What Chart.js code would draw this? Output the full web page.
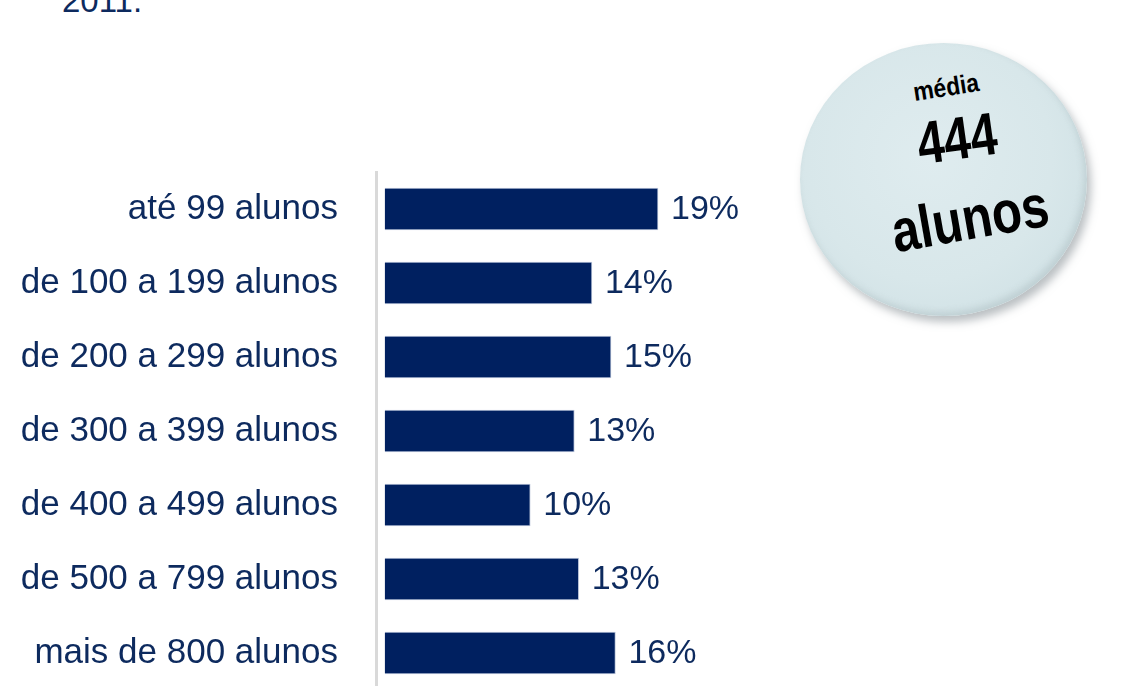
<!DOCTYPE html>
<html lang="pt">
<head>
  <meta charset="UTF-8" />
  <title>Número de alunos</title>
  <script src="https://cdn.jsdelivr.net/npm/chart.js"></script>
  <style>
    html, body {
      margin: 0;
      padding: 0;
      width: 1128px;
      height: 686px;
      overflow: hidden;
      background: #fff;
      font-family: 'Liberation Sans', Arial, sans-serif;
    }

    .year {
      position: absolute;
      left: 62px;
      top: -16px;
      font-size: 33px;
      color: #0d2a5e;
      line-height: 1;
    }

    .chart-box {
      position: absolute;
      left: 0;
      top: 0;
      width: 760px;
      height: 700px;
    }

    .badge {
      position: absolute;
      left: 800px;
      top: 43px;
      width: 287px;
      height: 273px;
      border-radius: 50%;
      background: radial-gradient(circle at 45% 42%, #dfecef 0%, #d8e7ea 55%, #d0e1e5 82%, #e8f0f2 100%);
      box-shadow: 4px 6px 8px rgba(120, 130, 135, 0.5), inset -3px -4px 6px rgba(150, 165, 170, 0.3);
    }

    .bt {
      position: absolute;
      font-weight: bold;
      color: #000;
      white-space: nowrap;
      line-height: 1;
    }
    .bt.t1 { left: 946px; top: 87px; font-size: 26px; transform: translate(-50%, -50%) rotate(-9deg) scaleX(0.88); }
    .bt.t2 { left: 957px; top: 139px; font-size: 60px; transform: translate(-50%, -50%) rotate(-8deg) scaleX(0.8); }
    .bt.t3 { left: 970px; top: 219px; font-size: 60px; transform: translate(-50%, -50%) rotate(-10deg) scaleX(0.82); }
  </style>
</head>
<body>
  <div class="year">2011.</div>

  <div class="chart-box">
    <canvas id="chart"></canvas>
  </div>

  <div class="badge"></div>
  <div class="bt t1">média</div>
  <div class="bt t2">444</div>
  <div class="bt t3">alunos</div>

  <script>
    const categories = [
      "até 99 alunos",
      "de 100 a 199 alunos",
      "de 200 a 299 alunos",
      "de 300 a 399 alunos",
      "de 400 a 499 alunos",
      "de 500 a 799 alunos",
      "mais de 800 alunos"
    ];
    const shares = [18.6, 14.1, 15.4, 12.9, 9.9, 13.2, 15.7];
    const shareLabels = ["19%", "14%", "15%", "13%", "10%", "13%", "16%"];

    const navy = "#002060";
    const textNavy = "#0d2a5e";

    // percentages written just right of each bar
    const valueLabels = {
      id: "valueLabels",
      afterDatasetsDraw(chart) {
        const ctx = chart.ctx;
        const meta = chart.getDatasetMeta(0);
        ctx.save();
        ctx.font = "34px 'Liberation Sans', Arial, sans-serif";
        ctx.fillStyle = textNavy;
        ctx.textAlign = "left";
        ctx.textBaseline = "middle";
        meta.data.forEach((bar, i) => {
          ctx.fillText(shareLabels[i], bar.x + 13, bar.y + 1);
        });
        ctx.restore();
      }
    };

    new Chart(document.getElementById("chart"), {
      type: "bar",
      data: {
        labels: categories,
        datasets: [{
          data: shares,
          backgroundColor: navy,
          borderColor: "#b8c3d8",
          borderWidth: 1,
          barThickness: 42
        }]
      },
      options: {
        indexAxis: "y",
        responsive: true,
        maintainAspectRatio: false,
        animation: false,
        layout: { padding: { top: 172, bottom: 10, left: 0, right: 8 } },
        plugins: {
          legend: { display: false },
          tooltip: { enabled: false }
        },
        scales: {
          x: {
            display: false,
            min: -0.6,
            max: 25
          },
          y: {
            afterFit(scale) {
              scale.width = 376;
              scale.paddingTop = 0;
              scale.paddingBottom = 0;
            },
            grid: { display: false, drawTicks: false },
            border: { display: true, color: "#d9d9d9", width: 3 },
            ticks: {
              padding: 38,
              color: textNavy,
              font: { family: "'Liberation Sans', Arial, sans-serif", size: 35 }
            }
          }
        }
      },
      plugins: [valueLabels]
    });
  </script>
</body>
</html>
